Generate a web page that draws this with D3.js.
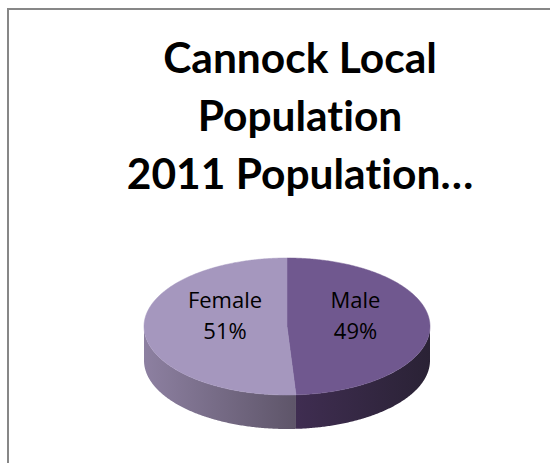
<!DOCTYPE html>
<html>
<head>
<meta charset="utf-8">
<script src="https://cdn.jsdelivr.net/npm/d3@7"></script>
<style>
  html, body { margin: 0; padding: 0; background: #ffffff; }
  svg { display: block; }
  text { font-variant-ligatures: none; font-feature-settings: "liga" 0, "clig" 0; }
</style>
</head>
<body>
<svg id="chart" width="550" height="463"></svg>
<script>
// Population split by sex, 2011
const categories = ["Male", "Female"];
const values = [49, 51];
const titleLines = ["Cannock Local", "Population", "2011 Population…"];

const topColors = { Male: "#70588f", Female: "#a597be" };
const sideLight = { Male: "#3f2d51", Female: "#8d80a1" };
const sideDark  = { Male: "#2a2235", Female: "#5e5569" };

const svg = d3.select("#chart");

// chart area frame
svg.append("rect")
  .attr("x", 8).attr("y", 9)
  .attr("width", 600).attr("height", 500)
  .attr("fill", "#ffffff")
  .attr("stroke", "#878787")
  .attr("stroke-width", 2);

// title
const title = svg.append("text")
  .attr("text-anchor", "middle")
  .attr("font-family", "Lato, 'Open Sans', sans-serif")
  .attr("font-weight", "bold")
  .attr("font-size", 42.5)
  .attr("fill", "#000000");
titleLines.forEach((t, i) => {
  title.append("tspan").attr("x", 300).attr("y", 73 + i * 58).text(t);
});

// 3D pie geometry
const cx = 287, cy = 326.5, rx = 143, ry = 68.5, depth = 34;

const pie = d3.pie().sort(null).value(d => d.value).startAngle(0).endAngle(2 * Math.PI);
const slices = pie(categories.map((c, i) => ({ name: c, value: values[i] })));

// angle measured clockwise from 12 o'clock, projected onto the tilted ellipse
const px = a => cx + rx * Math.sin(a);
const py = a => cy - ry * Math.cos(a);

function arcPoints(a0, a1, dy) {
  const n = Math.max(2, Math.ceil(Math.abs(a1 - a0) / 0.01));
  const pts = [];
  for (let k = 0; k <= n; k++) {
    const a = a0 + (a1 - a0) * k / n;
    pts.push([px(a), py(a) + dy]);
  }
  return pts;
}

const defs = svg.append("defs");
const line = d3.line();

// side walls: only the front half (PI/2 .. 3PI/2) is visible
slices.forEach(s => {
  const a0 = Math.max(s.startAngle, Math.PI / 2);
  const a1 = Math.min(s.endAngle, 3 * Math.PI / 2);
  if (a1 <= a0) return;
  const id = "side-" + s.data.name;
  const xL = Math.min(px(a0), px(a1)), xR = Math.max(px(a0), px(a1));
  const g = defs.append("linearGradient").attr("id", id)
    .attr("gradientUnits", "userSpaceOnUse")
    .attr("x1", xL).attr("x2", xR).attr("y1", 0).attr("y2", 0);
  g.append("stop").attr("offset", "0%").attr("stop-color", sideLight[s.data.name]);
  g.append("stop").attr("offset", "100%").attr("stop-color", sideDark[s.data.name]);
  const pts = arcPoints(a0, a1, 0).concat(arcPoints(a1, a0, depth));
  svg.append("path")
    .attr("d", line(pts) + "Z")
    .attr("fill", `url(#${id})`);
});

// top faces
slices.forEach(s => {
  const pts = [[cx, cy]].concat(arcPoints(s.startAngle, s.endAngle, 0));
  svg.append("path")
    .attr("d", line(pts) + "Z")
    .attr("fill", topColors[s.data.name])
    .attr("stroke", topColors[s.data.name])
    .attr("stroke-width", 0.5);
});

// data labels
const labelPos = { Male: [355.5, 308], Female: [225, 308] };
slices.forEach(s => {
  const [lx, ly] = labelPos[s.data.name];
  const t = svg.append("text")
    .attr("text-anchor", "middle")
    .attr("font-family", "'Open Sans', Lato, sans-serif")
    .attr("font-size", 22)
    .attr("fill", "#000000");
  t.append("tspan").attr("x", lx).attr("y", ly).text(s.data.name);
  t.append("tspan").attr("x", lx).attr("y", ly + 31).text(Math.round(s.data.value) + "%");
});
</script>
</body>
</html>
